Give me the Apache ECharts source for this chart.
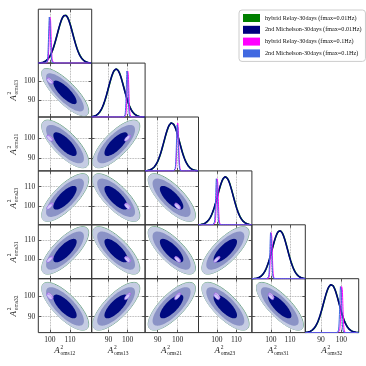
<!DOCTYPE html>
<html>
<head>
<meta charset="utf-8">
<script src="https://cdn.jsdelivr.net/npm/echarts@6/dist/echarts.min.js"></script>
<style>
html, body { margin: 0; padding: 0; background: #fff; }
#chart { width: 366px; height: 366px; }
</style>
</head>
<body>
<div id="chart"></div>
<script>
// parameters A^2_{omsXY}
const paramNames = ['oms12', 'oms13', 'oms21', 'oms23', 'oms31', 'oms32'];
const axisMin = [94.2, 81.2, 83.7, 90.5, 90.0, 82.2];
const axisMax = [120.8, 109.2, 110.5, 118.0, 118.0, 108.6];
const tickValues = [[100, 110], [90, 100], [90, 100], [100, 110], [100, 110], [90, 100]];

const seriesNames = [
  'hybrid Relay-30days (fmax=0.01Hz)',
  '2nd Michelson-30days (fmax=0.01Hz)',
  'hybrid Relay-30days (fmax=0.1Hz)',
  '2nd Michelson-30days (fmax=0.1Hz)'
];
// posterior means and widths
const meanRelay001 = [107.6, 94.1, 97.1, 104.4, 104.7, 95.1];
const meanMich001 = [107.5, 94.0, 97.0, 104.3, 104.6, 95.0];
const sigma001 = [3.85, 4.05, 3.9, 4.0, 4.05, 3.85];
const meanRelay01 = [100.1, 100.2, 100.1, 100.2, 100.2, 100.3];
const meanMich01 = [99.8, 99.8, 99.9, 99.8, 99.9, 99.7];
const sigma01 = [0.45, 0.45, 0.45, 0.45, 0.45, 0.45];
// correlation, row param vs column param (lower triangle)
const corr = [
  [],
  [-0.8],
  [-0.75, 0.75],
  [0.75, -0.75, -0.75],
  [0.75, -0.75, -0.75, 0.75],
  [-0.75, 0.75, 0.75, -0.75, -0.78]
];
const contourLevels = [0.99, 0.95, 0.68];

const means = [meanRelay001, meanMich001, meanRelay01, meanMich01];
const sigmas = [sigma001, sigma001, sigma01, sigma01];
const colors = ['#008000', '#000080', '#ff00ff', '#4169e1'];
const fills = [
  ['#c6dcc6', '#8cb88c', '#006400'],
  ['#c5cce3', '#8b93c6', '#000a80'],
  ['#dcc6f4', '#dcc6f4', '#dcc6f4'],
  ['#d4c8f8', '#d4c8f8', '#d4c8f8']
];
const strokes = ['#6aa484', null, '#b46cf0', '#9a70f0'];

// panel layout
const L = 38.3, T = 9.2, W = 53.4, H = 53.9;
const serif = '"Liberation Serif", "DejaVu Serif", serif';

function density(m, s, x) {
  return Math.exp(-0.5 * ((x - m) / s) * ((x - m) / s));
}

function curve(j, s) {
  const m = means[s][j], sd = sigmas[s][j];
  let xs = [];
  for (let k = 0; k <= 160; k++) xs.push(axisMin[j] + (axisMax[j] - axisMin[j]) * k / 160);
  for (let k = -60; k <= 60; k++) xs.push(m + sd * k / 10);
  xs = xs.filter(x => x >= axisMin[j] && x <= axisMax[j]).sort((a, b) => a - b);
  return xs.map(x => [x, density(m, sd, x)]);
}

const grid = [], xAxis = [], yAxis = [], series = [];

function tickAxis(extra) {
  return Object.assign({
    type: 'value',
    axisLine: { show: false },
    axisTick: { show: true, inside: true, length: 3, lineStyle: { color: '#333', width: 0.8 } },
    axisLabel: { show: false, fontFamily: serif, fontSize: 7.5, color: '#222', margin: 3 },
    splitLine: { show: false }
  }, extra);
}

for (let i = 0; i < 6; i++) {
  for (let j = 0; j <= i; j++) {
    const g = grid.length;
    grid.push({
      left: L + j * W, top: T + i * H, width: W, height: H,
      show: true, borderColor: '#333', borderWidth: 1, backgroundColor: 'transparent'
    });
    const xi = xAxis.length;
    const xt = tickValues[j];
    xAxis.push(tickAxis({
      gridIndex: g, min: axisMin[j], max: axisMax[j], position: 'bottom',
      axisTick: { show: true, inside: true, length: 3, customValues: xt, lineStyle: { color: '#333', width: 0.8 } },
      axisLabel: { show: i === 5, customValues: xt, fontFamily: serif, fontSize: 7.5, color: '#222', margin: 3 },
      splitLine: { show: true, lineStyle: { type: 'dotted', color: '#999', width: 0.8 } }
    }));
    xAxis.push(tickAxis({
      gridIndex: g, min: axisMin[j], max: axisMax[j], position: 'top',
      axisTick: { show: true, inside: true, length: 3, customValues: xt, lineStyle: { color: '#333', width: 0.8 } }
    }));
    const yi = yAxis.length;
    if (i === j) {
      yAxis.push(tickAxis({ gridIndex: g, min: 0, max: 1.12, axisTick: { show: false } }));
      [0, 1, 2, 3].forEach(s => {
        series.push({
          type: 'line', name: seriesNames[s], xAxisIndex: xi, yAxisIndex: yi,
          data: curve(j, s), showSymbol: false, smooth: false, silent: true,
          lineStyle: { color: colors[s], width: s < 2 ? 1.5 : 1 },
          itemStyle: { color: colors[s] }, z: 3 + s
        });
      });
    } else {
      const yt = tickValues[i];
      yAxis.push(tickAxis({
        gridIndex: g, min: axisMin[i], max: axisMax[i], position: 'left',
        axisTick: { show: true, inside: true, length: 3, customValues: yt, lineStyle: { color: '#333', width: 0.8 } },
        axisLabel: { show: j === 0, customValues: yt, fontFamily: serif, fontSize: 7.5, color: '#222', margin: 3 },
        splitLine: { show: true, lineStyle: { type: 'dotted', color: '#999', width: 0.8 } }
      }));
      yAxis.push(tickAxis({
        gridIndex: g, min: axisMin[i], max: axisMax[i], position: 'right',
        axisTick: { show: true, inside: true, length: 3, customValues: yt, lineStyle: { color: '#333', width: 0.8 } }
      }));
      const rho = corr[i][j];
      [0, 1, 2, 3].forEach(s => {
        const mx = means[s][j], my = means[s][i], sx = sigmas[s][j], sy = sigmas[s][i];
        series.push({
          type: 'custom', name: seriesNames[s], xAxisIndex: xi, yAxisIndex: yi,
          itemStyle: { color: colors[s] }, silent: true, z: 3 + s,
          encode: { x: 0, y: 1 },
          data: contourLevels.map((p, k) => [mx, my, p, k]),
          renderItem: function (params, api) {
            const r = Math.sqrt(-2 * Math.log(1 - api.value(2)));
            const lvl = api.value(3);
            const pts = [];
            for (let k = 0; k <= 90; k++) {
              const t = k / 90 * 2 * Math.PI;
              const x = mx + r * sx * Math.cos(t);
              const y = my + r * sy * (rho * Math.cos(t) + Math.sqrt(1 - rho * rho) * Math.sin(t));
              pts.push(api.coord([x, y]));
            }
            const cs = params.coordSys;
            const st = strokes[s] && lvl === 0;
            return {
              type: 'polygon', shape: { points: pts },
              style: { fill: fills[s][lvl], stroke: st ? strokes[s] : null, lineWidth: st ? 1 : 0 },
              clipPath: { type: 'rect', shape: { x: cs.x, y: cs.y, width: cs.width, height: cs.height } }
            };
          }
        });
      });
    }
  }
}

function titleGroup(name, x, y, rot) {
  return {
    type: 'group', x: x, y: y, rotation: rot, silent: true,
    children: [
      { type: 'text', x: -5, y: 0, style: { text: 'A', font: 'italic 9px ' + serif, fill: '#222', align: 'center', verticalAlign: 'middle' } },
      { type: 'text', x: -1.5, y: -3.5, style: { text: '2', font: '5.5px ' + serif, fill: '#222', align: 'left', verticalAlign: 'middle' } },
      { type: 'text', x: -1.5, y: 3, style: { text: name, font: '5.5px ' + serif, fill: '#222', align: 'left', verticalAlign: 'middle' } }
    ]
  };
}

const graphic = [];
paramNames.forEach((p, j) => {
  graphic.push(titleGroup(p, L + (j + 0.5) * W - 3, 351, 0));
  if (j > 0) graphic.push(titleGroup(p, 13.5, T + (j + 0.5) * H + 3, Math.PI / 2));
});

const chart = echarts.init(document.getElementById('chart'));
chart.setOption({
  animation: false,
  backgroundColor: '#fff',
  grid: grid,
  xAxis: xAxis,
  yAxis: yAxis,
  series: series,
  graphic: graphic,
  legend: {
    data: seriesNames, orient: 'vertical', left: 239, top: 10,
    itemWidth: 17, itemHeight: 8, itemGap: 3.8, icon: 'rect',
    padding: [4, 4, 4, 4], backgroundColor: '#fff', borderColor: '#ccc', borderWidth: 1, borderRadius: 3,
    textStyle: { fontFamily: serif, fontSize: 6.2, color: '#111' },
    selectedMode: false
  }
});
</script>
</body>
</html>
